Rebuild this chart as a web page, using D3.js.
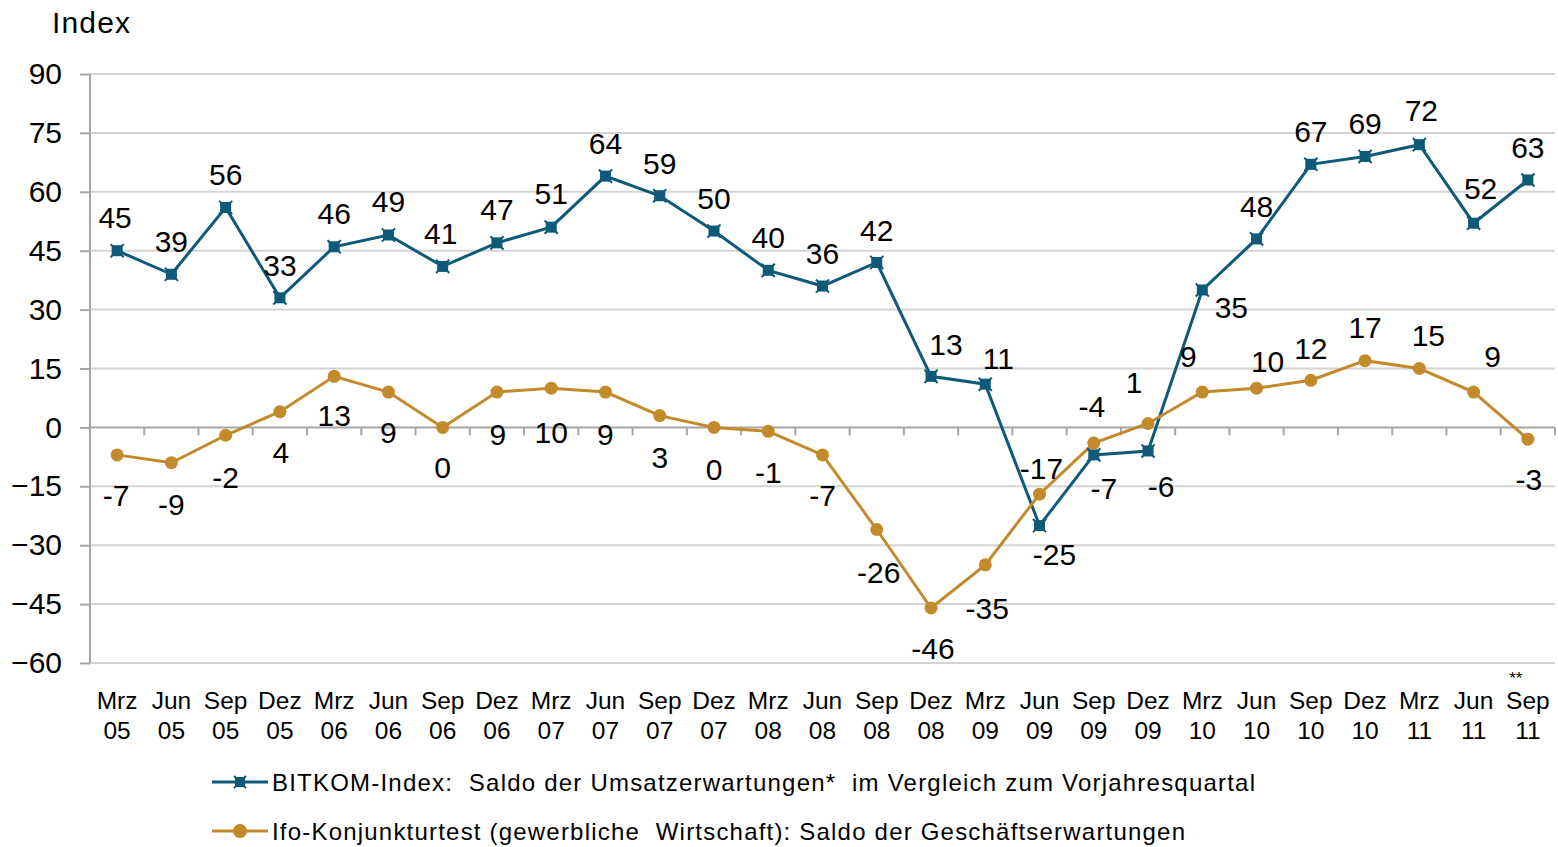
<!DOCTYPE html>
<html><head><meta charset="utf-8">
<script src="https://cdn.jsdelivr.net/npm/d3@7"></script>
<style>body{margin:0;background:#fff}svg{display:block;font-family:"Liberation Sans",Arial,sans-serif}text{white-space:pre}</style>
</head><body>
<svg id="c" width="1558" height="847"></svg>
<script>
const categories = ["Mrz 05","Jun 05","Sep 05","Dez 05","Mrz 06","Jun 06","Sep 06","Dez 06","Mrz 07","Jun 07","Sep 07","Dez 07","Mrz 08","Jun 08","Sep 08","Dez 08","Mrz 09","Jun 09","Sep 09","Dez 09","Mrz 10","Jun 10","Sep 10","Dez 10","Mrz 11","Jun 11","Sep 11"];
const bitkom = [45,39,56,33,46,49,41,47,51,64,59,50,40,36,42,13,11,-25,-7,-6,35,48,67,69,72,52,63];
const ifo = [-7,-9,-2,4,13,9,0,9,10,9,3,0,-1,-7,-26,-46,-35,-17,-4,1,9,10,12,17,15,9,-3];
const yTicks = [-60,-45,-30,-15,0,15,30,45,60,75,90];
const seriesNames = ["BITKOM-Index:  Saldo der Umsatzerwartungen*  im Vergleich zum Vorjahresquartal",
                     "Ifo-Konjunkturtest (gewerbliche  Wirtschaft): Saldo der Geschäftserwartungen"];
const yTitle = "Index";
const lastNote = "**";

// label placement offsets (style, not data): [dx, dy] of label centre from point
const bitkomLabelOff = [[-2,-34],[0,-33],[0,-33],[0,-33],[0,-34],[0,-34],[-2,-33],[0,-34],[0,-34],[0,-33],[0,-33],[0,-33],[0,-33],[0,-33],[0,-32],[15,-32],[13,-26],[15,29],[10,33],[13,35],[29,17],[0,-33],[0,-33],[0,-33],[2,-34],[7,-35],[0,-33]];
const ifoLabelOff = [[-1,40],[0,41],[0,42],[1,41],[0,39],[0,40],[0,40],[1,42],[0,44],[0,42],[0,42],[0,42],[0,41],[0,40],[2,43],[2,40],[2,43],[2,-26],[-2,-37],[-14,-41],[-14,-36],[11,-27],[0,-32],[0,-33],[9,-33],[19,-36],[1,40]];
const legendWidths = [983, 913];

const teal = "#0e5a78", gold = "#c38a2b";
const svg = d3.select("#c");
const x = d3.scaleBand().domain(categories).range([90,1555]);
const cx = c => x(c) + x.bandwidth()/2;
const y = d3.scaleLinear().domain([-60,90]).range([663,74]);

// gridlines
svg.append("g").selectAll("line").data(yTicks.filter(t=>t!==0)).join("line")
  .attr("x1",90).attr("x2",1555).attr("y1",d=>y(d)).attr("y2",d=>y(d))
  .attr("stroke","#d4d4d4").attr("stroke-width",2);

// y axis
const yAxis = svg.append("g").attr("transform","translate(90,0)")
  .call(d3.axisLeft(y).tickValues(yTicks).tickSize(10).tickPadding(18));
yAxis.select(".domain").attr("stroke","#a6a6a6").attr("stroke-width",2).attr("d","M0,"+y(-60)+"V"+y(90));
yAxis.selectAll(".tick line").attr("stroke","#a6a6a6").attr("stroke-width",2);
yAxis.selectAll(".tick text").attr("font-size",30).attr("fill","#000").attr("font-family","Liberation Sans, Arial");

// zero axis line with category ticks
const zy = y(0);
svg.append("line").attr("x1",90).attr("x2",1555).attr("y1",zy).attr("y2",zy).attr("stroke","#a6a6a6").attr("stroke-width",2);
const bounds = categories.map(c=>x(c)).concat([x(categories[categories.length-1])+x.bandwidth()]).slice(1);
svg.append("g").selectAll("line").data(bounds).join("line")
  .attr("x1",d=>d).attr("x2",d=>d).attr("y1",zy).attr("y2",zy+8).attr("stroke","#a6a6a6").attr("stroke-width",2);

// category labels
const cl = svg.append("g").selectAll("text").data(categories).join("text")
  .attr("x",d=>cx(d)).attr("text-anchor","middle").attr("font-size",24.5).attr("fill","#000");
cl.append("tspan").attr("x",d=>cx(d)).attr("y",709).text(d=>d.split(" ")[0]);
cl.append("tspan").attr("x",d=>cx(d)).attr("y",739).text(d=>d.split(" ")[1]);
svg.append("text").attr("x",cx(categories[categories.length-1])-12).attr("y",684)
  .attr("text-anchor","middle").attr("font-size",17).text(lastNote);

// title
svg.append("text").attr("x",52).attr("y",33).attr("font-size",30).attr("textLength",78).attr("lengthAdjust","spacing").text(yTitle);

// lines
const line = d3.line().x((d,i)=>cx(categories[i])).y(d=>y(d));
svg.append("path").datum(bitkom).attr("d",line).attr("fill","none").attr("stroke",teal).attr("stroke-width",3);
svg.append("path").datum(ifo).attr("d",line).attr("fill","none").attr("stroke",gold).attr("stroke-width",3);

function sqMarker(g, px, py, s){
  g.append("rect").attr("x",px-s/2).attr("y",py-s/2).attr("width",s).attr("height",s).attr("fill",teal);
  g.append("path").attr("d",`M${px-s*0.6},${py-s*0.6}L${px+s*0.6},${py+s*0.6}M${px+s*0.6},${py-s*0.6}L${px-s*0.6},${py+s*0.6}`)
    .attr("stroke",teal).attr("stroke-width",2);
}
const mk = svg.append("g");
bitkom.forEach((v,i)=>sqMarker(mk, cx(categories[i]), y(v), 11));
svg.append("g").selectAll("circle").data(ifo).join("circle")
  .attr("cx",(d,i)=>cx(categories[i])).attr("cy",d=>y(d)).attr("r",6.5).attr("fill",gold);

// data labels
function labels(data, off){
  svg.append("g").selectAll("text").data(data).join("text")
    .attr("x",(d,i)=>cx(categories[i])+off[i][0]).attr("y",(d,i)=>y(d)+off[i][1])
    .attr("dy","0.36em").attr("text-anchor","middle").attr("font-size",30).attr("fill","#000")
    .text(d=>d);
}
labels(bitkom, bitkomLabelOff);
labels(ifo, ifoLabelOff);

// legend
const lg = svg.append("g");
[[teal,782,"sq"],[gold,831,"c"]].forEach(([col,ly,m],i)=>{
  lg.append("line").attr("x1",212).attr("x2",268).attr("y1",ly).attr("y2",ly).attr("stroke",col).attr("stroke-width",3);
  if(m==="sq") sqMarker(lg,240,ly,10); else lg.append("circle").attr("cx",240).attr("cy",ly).attr("r",7).attr("fill",col);
  lg.append("text").attr("x",272).attr("y",ly).attr("dy","0.36em").attr("font-size",24)
    .attr("textLength",legendWidths[i]).attr("lengthAdjust","spacing").text(seriesNames[i]);
});
</script>
</body></html>
